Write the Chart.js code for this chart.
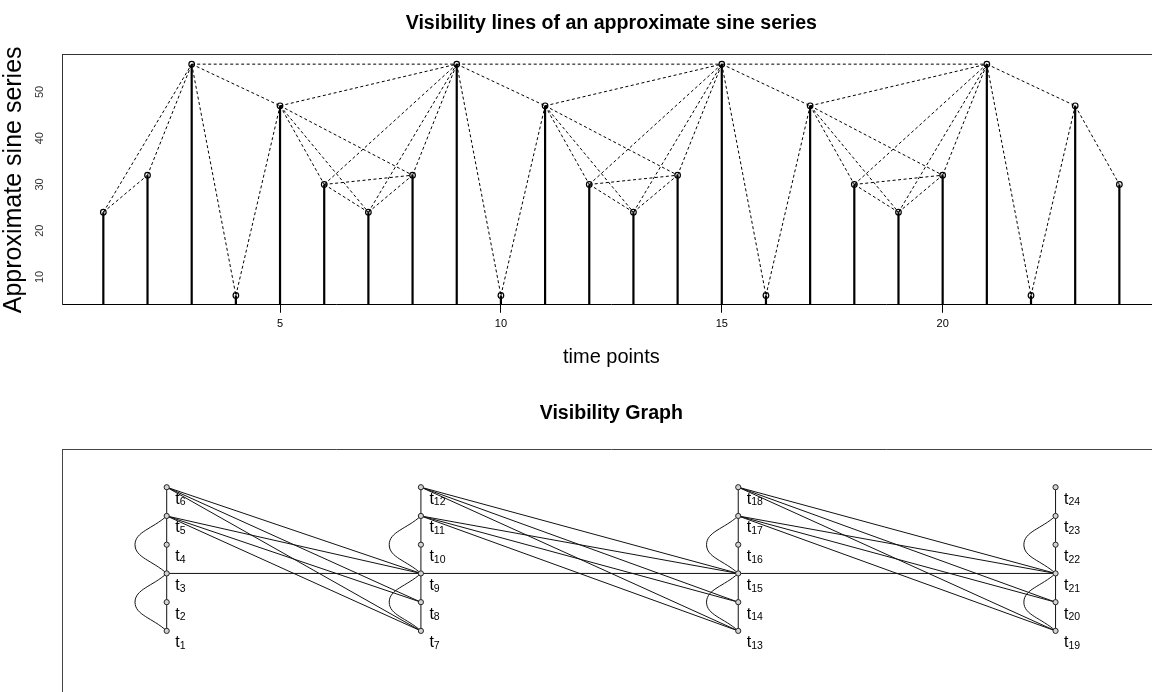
<!DOCTYPE html>
<html>
<head>
<meta charset="utf-8">
<script src="https://cdn.jsdelivr.net/npm/chart.js@4.4.1/dist/chart.umd.min.js"></script>
<style>
  html, body { margin: 0; padding: 0; background: #fff; overflow: hidden; width: 1152px; height: 692px; }
  #linesChart { position: absolute; left: 0; top: 0; }
  #graphChart { position: absolute; left: 0; top: 380px; }
</style>
</head>
<body>
<canvas id="linesChart" width="1170" height="380"></canvas>
<canvas id="graphChart" width="1170" height="330"></canvas>
<script>
// time points and the approximate sine series read off the stems
const timePoints = [1, 2, 3, 4, 5, 6, 7, 8, 9, 10, 11, 12, 13, 14, 15, 16, 17, 18, 19, 20, 21, 22, 23, 24];
const sineValues = [24, 32, 56, 6, 47, 30, 24, 32, 56, 6, 47, 30, 24, 32, 56, 6, 47, 30, 24, 32, 56, 6, 47, 30];
const xTickValues = [5, 10, 15, 20];
const yTickValues = [10, 20, 30, 40, 50];

// pairs of time points that see each other (dashed lines / graph edges)
const visibilityEdges = [
  [1, 2], [1, 3], [2, 3], [3, 4], [3, 5], [3, 9], [4, 5],
  [5, 6], [5, 7], [5, 8], [5, 9], [6, 7], [6, 8], [6, 9], [7, 8], [7, 9], [8, 9],
  [9, 10], [9, 11], [9, 15], [10, 11],
  [11, 12], [11, 13], [11, 14], [11, 15], [12, 13], [12, 14], [12, 15], [13, 14], [13, 15], [14, 15],
  [15, 16], [15, 17], [15, 21], [16, 17],
  [17, 18], [17, 19], [17, 20], [17, 21], [18, 19], [18, 20], [18, 21], [19, 20], [19, 21], [20, 21],
  [21, 22], [21, 23], [22, 23], [23, 24]
];

// graph layout of the nodes t1..t24
const layoutX = [-1, -1, -1, -1, -1, -1,
  -0.428, -0.428, -0.428, -0.428, -0.428, -0.428,
  0.286, 0.286, 0.286, 0.286, 0.286, 0.286,
  1, 1, 1, 1, 1, 1];
const layoutY = [0, 1, 2, 3, 4, 5, 0, 1, 2, 3, 4, 5, 0, 1, 2, 3, 4, 5, 0, 1, 2, 3, 4, 5];

const FONT = "'Liberation Sans', Arial, sans-serif";
const CURVE_BULGE = 0.0713;

Chart.defaults.font.family = FONT;
Chart.defaults.color = '#000';

// ---------- top: visibility lines ----------
const stemData = [];
timePoints.forEach((t, i) => {
  stemData.push({x: t, y: 0}, {x: t, y: sineValues[i]}, {x: t, y: null});
});
const edgeData = [];
visibilityEdges.forEach(([a, b]) => {
  edgeData.push({x: a, y: sineValues[a - 1]}, {x: b, y: sineValues[b - 1]}, {x: b, y: null});
});
const pointData = timePoints.map((t, i) => ({x: t, y: sineValues[i]}));

new Chart(document.getElementById('linesChart'), {
  type: 'scatter',
  data: {
    datasets: [
      { data: pointData, pointRadius: 2.8, pointBorderWidth: 1.2, pointBorderColor: '#000', pointBackgroundColor: 'rgba(0,0,0,0)' },
      { data: stemData, showLine: true, borderColor: '#000', borderWidth: 2.2, pointRadius: 0, spanGaps: false, clip: 0 },
      { data: edgeData, showLine: true, borderColor: '#000', borderWidth: 1, borderDash: [3, 2.5], pointRadius: 0, spanGaps: false }
    ]
  },
  options: {
    responsive: false,
    animation: false,
    devicePixelRatio: 1,
    layout: { padding: { left: 0, right: 10, top: 0, bottom: 0 }, autoPadding: false },
    plugins: { legend: { display: false }, tooltip: { enabled: false } },
    scales: {
      x: {
        type: 'linear', position: 'bottom', min: 0.08, max: 24.92,
        afterBuildTicks: s => { s.ticks = xTickValues.map(v => ({value: v})); },
        afterFit: s => { s.height = 75.25; },
        grid: { display: true, drawOnChartArea: false, drawTicks: true, tickLength: 8, tickColor: '#000', color: '#000' },
        border: { display: true, color: '#000', width: 1, z: 1 },
        ticks: { font: { size: 11 }, padding: 5, maxRotation: 0, autoSkip: false },
        title: { display: true, text: 'time points', font: { size: 20 }, padding: { top: 0, bottom: 10.6 } }
      },
      xTop: {
        type: 'linear', position: 'top', min: 0, max: 1,
        afterFit: s => { s.height = 54.9; },
        grid: { display: false, drawTicks: false },
        ticks: { display: false },
        border: { display: true, color: '#333', width: 1, z: 1 },
        title: { display: true, text: 'Visibility lines of an approximate sine series', font: { size: 19.6, weight: 'bold' }, padding: { top: 11.8, bottom: 0 } }
      },
      y: {
        type: 'linear', position: 'left', min: 4, max: 58,
        afterBuildTicks: s => { s.ticks = yTickValues.map(v => ({value: v})); },
        afterFit: s => { s.width = 62.7; },
        grid: { display: false, drawTicks: false },
        border: { display: true, color: '#333', width: 1, z: 1 },
        ticks: { minRotation: 90, maxRotation: 90, crossAlign: 'center', padding: 17, font: { size: 11 }, color: '#333' },
        title: { display: true, text: 'Approximate sine series', font: { size: 25, lineHeight: 1 }, padding: { top: 1.5, bottom: 0 } }
      }
    }
  }
});

// ---------- bottom: visibility graph ----------
const straightEdges = [];
const curvedEdges = [];
visibilityEdges.forEach(([a, b]) => {
  const ax = layoutX[a - 1], ay = layoutY[a - 1];
  const bx = layoutX[b - 1], by = layoutY[b - 1];
  if (ax === bx && Math.abs(ay - by) > 1) {
    curvedEdges.push({x: ax, y: ay}, {x: ax - CURVE_BULGE, y: (ay + by) / 2}, {x: bx, y: by}, {x: bx, y: null});
  } else {
    straightEdges.push({x: ax, y: ay}, {x: bx, y: by}, {x: bx, y: null});
  }
});
const nodeData = timePoints.map((t, i) => ({x: layoutX[i], y: layoutY[i]}));

// "t" with the time index as a subscript, placed below right of each node
const nodeLabels = {
  id: 'nodeLabels',
  afterDatasetsDraw(chart) {
    const {ctx, scales: {x, y}} = chart;
    ctx.save();
    ctx.fillStyle = '#000';
    ctx.textBaseline = 'alphabetic';
    ctx.textAlign = 'left';
    timePoints.forEach((t, i) => {
      const px = x.getPixelForValue(layoutX[i]);
      const py = y.getPixelForValue(layoutY[i]);
      ctx.font = '16px ' + FONT;
      ctx.fillText('t', px + 8.5, py + 16.5);
      const w = ctx.measureText('t').width;
      ctx.font = '10.5px ' + FONT;
      ctx.fillText(String(t), px + 8.5 + w, py + 18.2);
    });
    ctx.restore();
  }
};

new Chart(document.getElementById('graphChart'), {
  type: 'scatter',
  data: {
    datasets: [
      { data: nodeData, pointRadius: 2.6, pointBorderWidth: 1, pointBorderColor: '#222', pointBackgroundColor: '#d4d4d4' },
      { data: straightEdges, showLine: true, borderColor: '#111', borderWidth: 1, pointRadius: 0, spanGaps: false },
      { data: curvedEdges, showLine: true, borderColor: '#111', borderWidth: 1, pointRadius: 0, spanGaps: false, tension: 0.45 }
    ]
  },
  options: {
    responsive: false,
    animation: false,
    devicePixelRatio: 1,
    layout: { padding: { left: 0, right: 10, top: 0, bottom: 11 }, autoPadding: false },
    plugins: { legend: { display: false }, tooltip: { enabled: false } },
    scales: {
      x: { type: 'linear', min: -1.234, max: 1.235, display: false },
      xTop: {
        type: 'linear', position: 'top', min: 0, max: 1,
        afterFit: s => { s.height = 69; },
        grid: { display: false, drawTicks: false },
        ticks: { display: false },
        border: { display: true, color: '#444', width: 1, z: 1 },
        title: { display: true, text: 'Visibility Graph', font: { size: 19.6, weight: 'bold' }, padding: { top: 22, bottom: 0 } }
      },
      y: {
        type: 'linear', position: 'left', min: -2.37, max: 6.33,
        afterFit: s => { s.width = 62.7; },
        grid: { display: false, drawTicks: false },
        ticks: { display: false },
        border: { display: true, color: '#444', width: 1, z: 1 }
      }
    }
  },
  plugins: [nodeLabels]
});
</script>
</body>
</html>
